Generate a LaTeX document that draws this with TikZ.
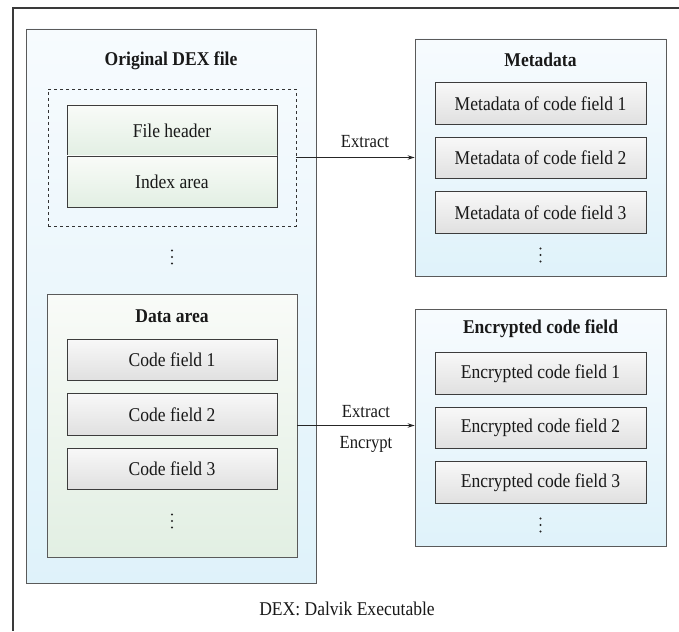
\documentclass[tikz,border=0pt]{standalone}
\usepackage{fontspec}
\setmainfont{Liberation Serif}[FakeStretch=0.9]
\usetikzlibrary{arrows.meta}

\definecolor{frameline}{HTML}{3A3A3A}
\definecolor{boxline}{HTML}{5A5A5A}
\definecolor{itemline}{HTML}{3C3C3C}
\definecolor{bluetop}{HTML}{F7FBFE}
\definecolor{bluebot}{HTML}{DFF2FA}
\definecolor{greentop}{HTML}{F9FBF8}
\definecolor{greenbot}{HTML}{E2EFE3}
\definecolor{graytop}{HTML}{F8F8F8}
\definecolor{graybot}{HTML}{E0E0E0}

\tikzset{
  x=1pt, y=-1pt,
  every node/.style={font=\fontsize{19.5}{22}\selectfont, text=black!90, inner sep=0pt},
  container/.style={draw=boxline, line width=0.9pt, top color=bluetop, bottom color=bluebot},
  greenarea/.style={draw=boxline, line width=0.9pt, top color=greentop, bottom color=greenbot},
  halfbox/.style={draw=itemline, line width=0.9pt, top color=greentop, bottom color=greenbot,
    minimum width=210pt, minimum height=51pt},
  itembox/.style={draw=itemline, line width=0.9pt, top color=graytop, bottom color=graybot,
    minimum height=41.5pt},
  dashbox/.style={draw=black!80, dashed, line width=0.8pt},
  boxtitle/.style={font=\fontsize{19.5}{22}\selectfont\bfseries},
  flow/.style={draw=black!85, line width=0.8pt, -{Stealth[length=7pt,width=4.5pt]}},
  lbl/.style={font=\fontsize{18.5}{22}\selectfont}
}

% vertical ellipsis: three dots around a named point
\newcommand\threedots[1]{%
  \foreach \d in {-6.5,0,6.5} \fill[black!85] (#1) ++(0,\d) circle (1.2pt);}

\begin{document}
\begin{tikzpicture}
\useasboundingbox (0,0) rectangle (679,631);
\fill[white] (0,0) rectangle (679,631);

% page frame (top and left rules)
\draw[frameline, line width=1.1pt] (679,8) -- (13,8) -- (13,631);

% ---------- original DEX file ----------
\node[container, minimum width=290pt, minimum height=554pt] (dex) at (171,306) {};
\node[boxtitle] (dextitle) at (171,61) {Original DEX file};
\node[dashbox, minimum width=248pt, minimum height=137pt] (dash) at (172,157.5) {};
\node[halfbox] (fh) at (172,130.5) {File header};
\node[halfbox] (ia) at (172,181.5) {Index area};
\coordinate (dexdots) at (172,257);
\threedots{dexdots}

\node[greenarea, minimum width=250pt, minimum height=263pt] (data) at (172,425.5) {};
\node[boxtitle] (datatitle) at (172,316) {Data area};
\node[itembox, minimum width=210pt] (cf1) at (172,360) {Code field 1};
\node[itembox, minimum width=210pt] (cf2) at (172,414.5) {Code field 2};
\node[itembox, minimum width=210pt] (cf3) at (172,469) {Code field 3};
\coordinate (datadots) at (172,521);
\threedots{datadots}

% ---------- metadata ----------
\node[container, minimum width=251pt, minimum height=237pt] (meta) at (540.5,157.5) {};
\node[boxtitle] (metatitle) at (540.5,60) {Metadata};
\node[itembox, minimum width=211pt] (m1) at (540.5,103.5) {Metadata of code field 1};
\node[itembox, minimum width=211pt] (m2) at (540.5,158) {Metadata of code field 2};
\node[itembox, minimum width=211pt] (m3) at (540.5,212.5) {Metadata of code field 3};
\coordinate (metadots) at (540.5,255);
\threedots{metadots}

% ---------- encrypted code field ----------
\node[container, minimum width=251pt, minimum height=237pt] (enc) at (540.5,427.5) {};
\node[boxtitle] (enctitle) at (540.5,329) {Encrypted code field};
\node[itembox, minimum width=211pt] (e1) at (540.5,373.5) {Encrypted code field 1};
\node[itembox, minimum width=211pt] (e2) at (540.5,428) {Encrypted code field 2};
\node[itembox, minimum width=211pt] (e3) at (540.5,482.5) {Encrypted code field 3};
\coordinate (encdots) at (540.5,525);
\threedots{encdots}

% ---------- flows ----------
\draw[flow] (dash.east) -- (dash.east -| meta.west);
\node[lbl] (x1) at (365,142) {Extract};

\draw[flow] (data.east) -- (data.east -| enc.west);
\node[lbl] (x2) at (366,412) {Extract};
\node[lbl] (x3) at (366,444) {Encrypt};

% ---------- caption ----------
\node (caption) at (347,609) {DEX: Dalvik Executable};
\end{tikzpicture}
\end{document}
